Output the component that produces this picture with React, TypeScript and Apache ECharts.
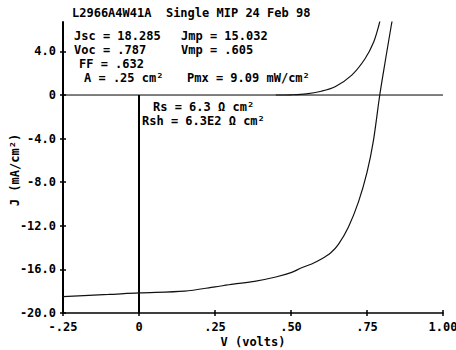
import React, { useEffect, useRef } from "react";
import * as echarts from "echarts";

// ---- data ----
const TITLE = "L2966A4W41A  Single MIP 24 Feb 98";
const X_NAME = "V (volts)";
const Y_NAME = "J (mA/cm²)";

const LIGHT_V = [-0.25, -0.1, 0, 0.15, 0.25, 0.31, 0.38, 0.45, 0.5, 0.535, 0.568, 0.6, 0.63, 0.656, 0.689, 0.722, 0.75, 0.771, 0.792, 0.81, 0.83, 0.837];
const LIGHT_J = [-18.5, -18.3, -18.15, -18.0, -17.6, -17.35, -17.1, -16.7, -16.3, -15.85, -15.5, -15.05, -14.5, -13.7, -12.1, -9.8, -7.1, -4.2, 0, 3.1, 6.4, 7.5];

const DARK_V = [0.45, 0.5, 0.55, 0.6, 0.645, 0.7, 0.744, 0.772, 0.789, 0.797];
const DARK_J = [0, 0.02, 0.1, 0.35, 0.76, 1.83, 3.35, 4.87, 6.4, 7.4];

const ZERO_V = [-0.25, 1.0];
const ZERO_J = [0, 0];
const VLINE_V = [0, 0];
const VLINE_J = [0, -20];

const X_TICKS = [-0.25, 0, 0.25, 0.5, 0.75, 1.0];
const X_TICK_LABELS = ["-.25", "0", ".25", ".50", ".75", "1.00"];
const Y_TICKS = [-20, -16, -12, -8, -4, 0, 4];
const Y_TICK_LABELS = ["-20.0", "-16.0", "-12.0", "-8.0", "-4.0", "0", "4.0"];

const NOTES = [
  "Jsc = 18.285",
  "Voc = .787",
  "FF = .632",
  "A = .25 cm²",
  "Jmp = 15.032",
  "Vmp = .605",
  "Pmx = 9.09 mW/cm²",
  "Rs = 6.3 Ω cm²",
  "Rsh = 6.3E2 Ω cm²",
];
// layout (pixel positions of the notes)
const NOTE_POS: [number, number][] = [
  [74, 36], [74, 50], [79, 64], [84, 78],
  [181, 36], [181, 50], [187, 78],
  [153, 107], [142, 121],
];

const FONT = '"DejaVu Sans Mono", monospace';

function pairs(xs: number[], ys: number[]) {
  return xs.map((x, i) => [x, ys[i]]);
}

export default function App() {
  const ref = useRef<HTMLDivElement>(null);
  useEffect(() => {
    if (!ref.current) return;
    const chart = echarts.init(ref.current, null, { renderer: "svg" });
    const txt = (text: string, x: number, y: number, extra: any = {}) => ({
      type: "text",
      x,
      y,
      ...extra,
      style: {
        text,
        fill: "#000",
        fontSize: 12,
        fontWeight: "bold",
        fontFamily: FONT,
        align: "left",
        verticalAlign: "middle",
        ...(extra.style || {}),
      },
    });
    const xFmt = (v: number) => {
      const i = X_TICKS.findIndex((t) => Math.abs(t - v) < 1e-6);
      return i >= 0 ? X_TICK_LABELS[i] : "";
    };
    const yFmt = (v: number) => {
      const i = Y_TICKS.findIndex((t) => Math.abs(t - v) < 1e-6);
      return i >= 0 ? Y_TICK_LABELS[i] : "";
    };
    const labelStyle = { color: "#000", fontSize: 12, fontWeight: "bold", fontFamily: FONT };
    chart.setOption({
      animation: false,
      backgroundColor: "#fff",
      grid: { left: 63, right: 13, top: 22, bottom: 37, containLabel: false, outerBoundsMode: "none" },
      xAxis: [
        {
          type: "value",
          min: -0.25,
          max: 1.0,
          interval: 0.25,
          position: "bottom",
          axisLine: { show: true, onZero: false, lineStyle: { color: "#000", width: 1.5 } },
          axisTick: { show: true, length: 3, lineStyle: { color: "#000", width: 1.5 } },
          axisLabel: { ...labelStyle, margin: 8, formatter: xFmt, showMinLabel: true, showMaxLabel: true },
          splitLine: { show: false },
        },
        {
          type: "value",
          min: -0.25,
          max: 1.0,
          interval: 0.25,
          position: "bottom",
          axisLine: { show: false, onZero: false },
          axisTick: { show: true, inside: true, length: 3, lineStyle: { color: "#000", width: 1.5 } },
          axisLabel: { show: false },
          splitLine: { show: false },
        },
      ],
      yAxis: [
        {
          type: "value",
          min: -20,
          max: 6.7,
          position: "left",
          axisLine: { show: true, onZero: false, lineStyle: { color: "#000", width: 2 } },
          axisTick: { show: true, length: 3, customValues: Y_TICKS, lineStyle: { color: "#000", width: 1.5 } },
          axisLabel: { ...labelStyle, margin: 7, customValues: Y_TICKS, formatter: yFmt },
          splitLine: { show: false },
        },
        {
          type: "value",
          min: -20,
          max: 6.7,
          position: "left",
          axisLine: { show: false, onZero: false },
          axisTick: { show: true, inside: true, length: 3, customValues: Y_TICKS, lineStyle: { color: "#000", width: 1.5 } },
          axisLabel: { show: false, customValues: Y_TICKS },
          splitLine: { show: false },
        },
      ],
      series: [
        {
          type: "line",
          data: pairs(ZERO_V, ZERO_J),
          symbol: "none",
          lineStyle: { color: "#000", width: 1 },
          silent: true,
        },
        {
          type: "line",
          data: pairs(VLINE_V, VLINE_J),
          symbol: "none",
          lineStyle: { color: "#000", width: 2 },
          silent: true,
        },
        {
          type: "line",
          data: pairs(LIGHT_V, LIGHT_J),
          symbol: "none",
          smooth: 0.3,
          clip: true,
          lineStyle: { color: "#111", width: 1.2 },
        },
        {
          type: "line",
          data: pairs(DARK_V, DARK_J),
          symbol: "none",
          smooth: 0.3,
          clip: true,
          lineStyle: { color: "#111", width: 1.2 },
        },
      ],
      graphic: [
        txt(TITLE, 72, 13),
        ...NOTES.map((n, i) => txt(n, NOTE_POS[i][0], NOTE_POS[i][1])),
        txt(X_NAME, 253, 342, { style: { align: "center" } }),
        txt(Y_NAME, 15, 170, { rotation: Math.PI / 2, style: { align: "center" } }),
      ],
    });
    return () => chart.dispose();
  }, []);
  return (
    <div
      ref={ref}
      style={{ position: "fixed", left: 0, top: 0, width: 456, height: 350, background: "#fff" }}
    />
  );
}
